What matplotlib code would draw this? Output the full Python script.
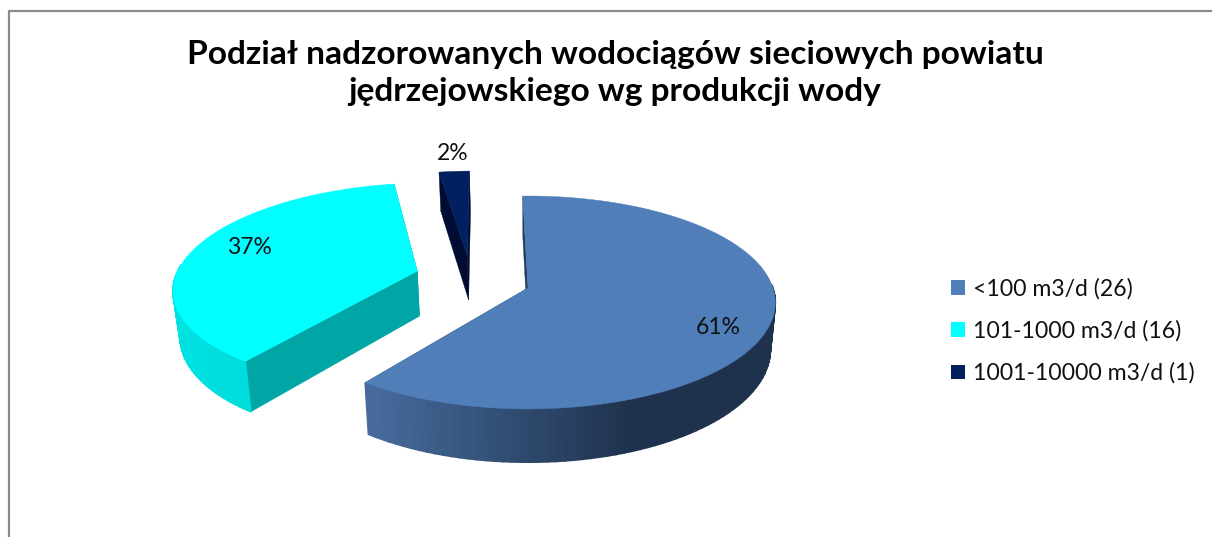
import numpy as np
import matplotlib
matplotlib.use("Agg")
import matplotlib.pyplot as plt
from matplotlib.patches import Polygon, Patch
from matplotlib.lines import Line2D
from matplotlib.colors import to_rgb

# data
categories = ["<100 m3/d (26)", "101-1000 m3/d (16)", "1001-10000 m3/d (1)"]
counts = [26, 16, 1]
percent_labels = ["61%", "37%", "2%"]
title = "Podział nadzorowanych wodociągów sieciowych powiatu\njędrzejowskiego wg produkcji wody"

# style
TOP = ["#4f7eb9", "#00ffff", "#002060"]
CUT = ["#243b5a", "#00a6a6", "#000c33"]
WALL_A = ["#476d9f", "#00e2e2", "#000c33"]
WALL_B = ["#1f324d", "#00cfcf", "#000c33"]
OFFSET = [(0.0, 0.0), (-0.462, -0.165), (-0.258, -0.32)]
LABEL_AT = [(718, 327), (249, 248), (453, 153)]
FONT = "Lato"
CX, CY, A, B, K, H, SHRINK = 528, 288, 245, 104.5, 0.136, 46, 0.98
START = -1.4


def project(X, Z, low=False):
    w = 1 / (1 - K * Z)
    x, y = A * X * w, B * Z * w
    if low:
        return CX + SHRINK * x, CY + y + H * w
    return CX + x, CY + y


fig = plt.figure(figsize=(12.12, 5.37), dpi=100, facecolor="white")
ax = fig.add_axes([0, 0, 1, 1])
ax.set_xlim(0, 1212)
ax.set_ylim(537, 0)
ax.axis("off")

ax.add_line(Line2D([8.5, 8.5, 1212], [537, 11, 11], color="#8a8a8a", lw=1.6))

total = sum(counts)
edges = START + np.cumsum([0] + counts) / total * 360

for i in range(len(counts)):
    th = np.radians(np.linspace(edges[i], edges[i + 1], 120))
    dX, dZ = OFFSET[i]
    X, Z = np.sin(th) + dX, -np.cos(th) + dZ
    xt, yt = project(X, Z)
    xb, yb = project(X, Z, True)
    ax_, az_ = project(np.array([dX]), np.array([dZ]))
    bx_, bz_ = project(np.array([dX]), np.array([dZ]), True)
    zo = 2 + i
    # cut faces
    for j in (0, -1):
        ax.add_patch(Polygon([(ax_[0], az_[0]), (xt[j], yt[j]), (xb[j], yb[j]), (bx_[0], bz_[0])],
                             closed=True, fc=CUT[i], ec=CUT[i], lw=0.3, zorder=zo))
    # outer wall, in strips
    x0, x1 = xt.min(), min(xt.min() + 270, xt.max())
    ca, cb = np.array(to_rgb(WALL_A[i])), np.array(to_rgb(WALL_B[i]))
    for j in range(len(th) - 1):
        if np.cos(th[j]) > 0.05:
            continue
        f = np.clip((xt[j] - x0) / max(x1 - x0, 1), 0, 1)
        c = ca + (cb - ca) * f
        ax.add_patch(Polygon([(xt[j], yt[j]), (xt[j + 1], yt[j + 1]), (xb[j + 1], yb[j + 1]), (xb[j], yb[j])],
                             closed=True, fc=c, ec=c, lw=1.2, zorder=zo))
    # top face
    pts = [(ax_[0], az_[0])] + list(zip(xt, yt))
    ax.add_patch(Polygon(pts, closed=True, fc=TOP[i], ec=TOP[i], lw=0.3, zorder=zo + 0.5))
    ax.text(LABEL_AT[i][0], LABEL_AT[i][1], percent_labels[i], ha="center", va="center",
            fontsize=16.5, family=FONT, color="#111111", zorder=10)

ax.text(615, 73, title, ha="center", va="center", fontsize=24.1, fontweight="bold",
        family=FONT, color="black", linespacing=1.33, zorder=10)

handles = [Patch(fc=c, ec="none") for c in TOP]
ax.legend(handles, categories, loc="upper left", bbox_to_anchor=(944 / 1212, 1 - 271 / 537),
          frameon=False, prop={"family": FONT, "size": 16.6}, handlelength=0.6, handleheight=0.6,
          handletextpad=0.35, labelspacing=0.9, borderpad=0.3, borderaxespad=0, labelcolor="#111111")

fig.savefig("out.png", dpi=100)
